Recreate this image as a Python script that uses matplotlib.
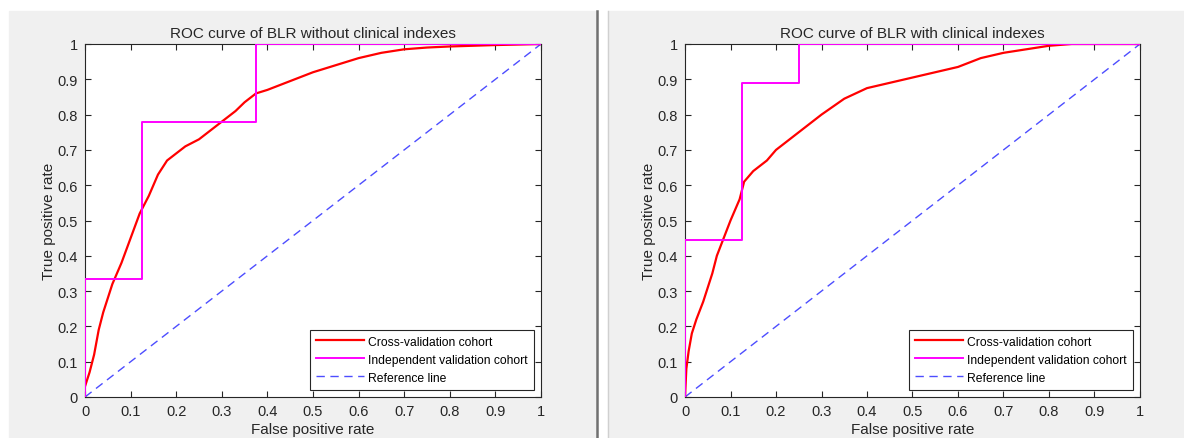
import numpy as np
import matplotlib.pyplot as plt
from matplotlib.patches import Rectangle
from matplotlib.lines import Line2D

plt.rcParams['font.family'] = ['Liberation Sans', 'DejaVu Sans']

### data ###
titles = ["ROC curve of BLR without clinical indexes",
          "ROC curve of BLR with clinical indexes"]

# cross-validation cohort (red)
cv_fpr_1 = [0, 0.005, 0.01, 0.02, 0.03, 0.04, 0.05, 0.06, 0.08, 0.10, 0.12, 0.14,
            0.16, 0.18, 0.20, 0.22, 0.25, 0.28, 0.30, 0.33, 0.35, 0.375, 0.40,
            0.45, 0.50, 0.55, 0.60, 0.65, 0.70, 0.75, 0.80, 0.90, 1.0]
cv_tpr_1 = [0.03, 0.05, 0.07, 0.12, 0.19, 0.24, 0.28, 0.32, 0.38, 0.45, 0.52, 0.57,
            0.63, 0.67, 0.69, 0.71, 0.73, 0.76, 0.78, 0.81, 0.835, 0.86, 0.87,
            0.895, 0.92, 0.94, 0.96, 0.975, 0.985, 0.99, 0.993, 0.997, 1.0]

cv_fpr_2 = [0, 0.003, 0.008, 0.015, 0.025, 0.04, 0.05, 0.06, 0.07, 0.085, 0.10,
            0.12, 0.13, 0.15, 0.18, 0.20, 0.25, 0.30, 0.35, 0.40, 0.45, 0.50,
            0.55, 0.60, 0.65, 0.70, 0.75, 0.80, 0.85, 1.0]
cv_tpr_2 = [0, 0.08, 0.13, 0.18, 0.22, 0.27, 0.31, 0.35, 0.40, 0.45, 0.50,
            0.56, 0.61, 0.64, 0.67, 0.70, 0.75, 0.80, 0.845, 0.875, 0.89, 0.905,
            0.92, 0.935, 0.96, 0.975, 0.985, 0.995, 1.0, 1.0]

# independent validation cohort (magenta), step curves
iv_fpr_1 = [0, 0, 0.125, 0.125, 0.375, 0.375, 1]
iv_tpr_1 = [0, 0.333, 0.333, 0.778, 0.778, 1, 1]
iv_fpr_2 = [0, 0, 0.125, 0.125, 0.25, 0.25, 1]
iv_tpr_2 = [0, 0.444, 0.444, 0.889, 0.889, 1, 1]

ref = [0, 1]
ticks = np.arange(0, 1.01, 0.1)
tick_labels = ['0', '0.1', '0.2', '0.3', '0.4', '0.5', '0.6', '0.7', '0.8', '0.9', '1']

W, H = 1184, 439
fig = plt.figure(figsize=(W / 100, H / 100), dpi=100)
fig.patch.set_facecolor('white')

# gray panels + divider (behind the axes)
fig.add_artist(Rectangle((9 / W, 0), (596 - 9) / W, (H - 12) / H,
                         transform=fig.transFigure, color='#f0f0f0', zorder=-10))
fig.add_artist(Rectangle((608 / W, 0), (W - 608) / W, (H - 12) / H,
                         transform=fig.transFigure, color='#f0f0f0', zorder=-10))
fig.add_artist(Line2D([597 / W, 597 / W], [0, (H - 12) / H], transform=fig.transFigure,
                      color='#707070', lw=1.8, zorder=-9))
fig.add_artist(Line2D([608 / W, 608 / W], [0, (H - 12) / H], transform=fig.transFigure,
                      color='#d0d0d0', lw=1, zorder=-9))

axes_px = [(85, 541), (685, 1140)]
top, bottom = 45, 398
data = [(cv_fpr_1, cv_tpr_1, iv_fpr_1, iv_tpr_1),
        (cv_fpr_2, cv_tpr_2, iv_fpr_2, iv_tpr_2)]

txt = '#262626'
for i, (x0, x1) in enumerate(axes_px):
    ax = fig.add_axes([x0 / W, (H - bottom) / H, (x1 - x0) / W, (bottom - top) / H])
    cf, ct, vf, vt = data[i]
    ax.plot(cf, ct, color='#ff0000', lw=1.6, label='Cross-validation cohort', zorder=3)
    ax.plot(vf, vt, color='#ff00ff', lw=1.4, label='Independent validation cohort', zorder=4)
    ax.plot(ref, ref, color='#4d4dff', lw=1, ls=(0, (6, 4)), label='Reference line', zorder=2)
    ax.set_xlim(0, 1)
    ax.set_ylim(0, 1)
    ax.set_xticks(ticks)
    ax.set_yticks(ticks)
    ax.set_xticklabels(tick_labels)
    ax.set_yticklabels(tick_labels)
    ax.tick_params(direction='in', top=True, right=True, length=4, width=0.8,
                   colors=txt, labelsize=10.5, pad=5)
    for s in ax.spines.values():
        s.set_color(txt)
        s.set_linewidth(0.8)
    ax.set_title(titles[i], fontsize=11, color=txt, pad=5)
    ax.set_xlabel('False positive rate', fontsize=11, color=txt, labelpad=3)
    ax.set_ylabel('True positive rate', fontsize=11, color=txt, labelpad=1)
    leg = ax.legend(loc='lower right', fontsize=8.7, frameon=True, fancybox=False,
                    edgecolor=txt, framealpha=1, borderpad=0.5, labelspacing=0.5,
                    handlelength=4.0, handletextpad=0.3, borderaxespad=0.6)
    leg.get_frame().set_linewidth(0.8)

fig.savefig('out.png', dpi=100, facecolor=fig.get_facecolor())
